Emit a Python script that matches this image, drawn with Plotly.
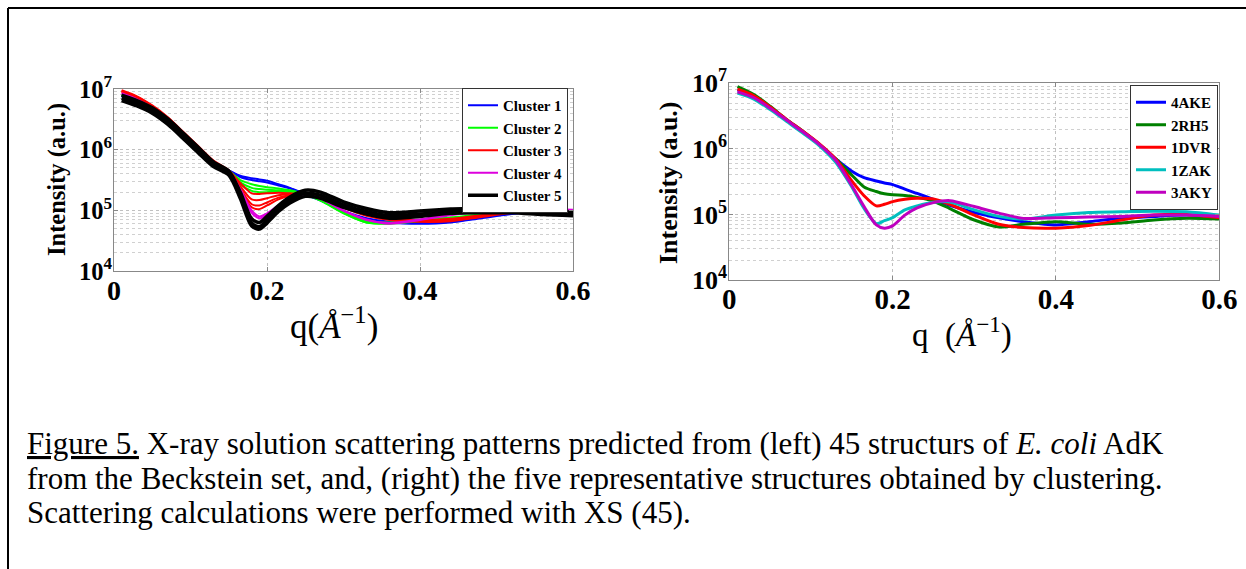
import plotly.graph_objects as go

W, H = 1246, 569

# ---------------- data ----------------
# scattering vector q (1/Angstrom), shared by all curves
q = [0.01, 0.03, 0.05, 0.07, 0.09, 0.11, 0.13, 0.15, 0.165, 0.18, 0.19, 0.20,
     0.215, 0.23, 0.25, 0.27, 0.30, 0.33, 0.36, 0.40, 0.44, 0.48, 0.52, 0.56, 0.60]

# Left panel: log10(Intensity) of structures grouped in clusters
c1_a = [6.88, 6.80, 6.67, 6.49, 6.26, 6.02, 5.79, 5.66, 5.57, 5.53, 5.51, 5.49, 5.43, 5.37, 5.27, 5.17, 4.99, 4.87, 4.81, 4.79, 4.81, 4.88, 4.95, 4.98, 4.96]
c1_b = [6.89, 6.80, 6.67, 6.49, 6.26, 6.02, 5.79, 5.66, 5.55, 5.50, 5.48, 5.46, 5.41, 5.36, 5.26, 5.16, 4.98, 4.86, 4.80, 4.78, 4.80, 4.87, 4.94, 4.97, 4.96]
c2_a = [6.90, 6.81, 6.68, 6.50, 6.27, 6.03, 5.79, 5.65, 5.50, 5.43, 5.40, 5.38, 5.36, 5.33, 5.27, 5.17, 4.96, 4.80, 4.78, 4.82, 4.86, 4.92, 4.96, 4.97, 4.95]
c2_b = [6.90, 6.81, 6.68, 6.50, 6.27, 6.03, 5.79, 5.65, 5.46, 5.37, 5.35, 5.34, 5.33, 5.31, 5.26, 5.16, 4.95, 4.80, 4.79, 4.83, 4.87, 4.92, 4.96, 4.97, 4.95]
c2_c = [6.91, 6.82, 6.69, 6.51, 6.28, 6.04, 5.80, 5.65, 5.43, 5.32, 5.30, 5.30, 5.31, 5.30, 5.26, 5.17, 4.97, 4.82, 4.80, 4.84, 4.88, 4.93, 4.96, 4.97, 4.95]
c3_a = [6.98, 6.88, 6.73, 6.54, 6.30, 6.06, 5.82, 5.66, 5.45, 5.28, 5.27, 5.28, 5.29, 5.28, 5.26, 5.20, 5.05, 4.92, 4.85, 4.82, 4.83, 4.90, 4.97, 4.99, 4.97]
c3_b = [6.97, 6.87, 6.72, 6.53, 6.29, 6.05, 5.81, 5.65, 5.40, 5.18, 5.17, 5.20, 5.25, 5.27, 5.26, 5.20, 5.04, 4.91, 4.84, 4.81, 4.82, 4.89, 4.96, 4.99, 4.97]
c3_c = [6.96, 6.86, 6.71, 6.52, 6.28, 6.04, 5.80, 5.64, 5.36, 5.10, 5.08, 5.13, 5.21, 5.25, 5.26, 5.21, 5.06, 4.93, 4.86, 4.83, 4.84, 4.91, 4.97, 5.00, 4.98]
c3_d = [6.95, 6.85, 6.70, 6.51, 6.27, 6.03, 5.79, 5.64, 5.33, 5.05, 5.02, 5.08, 5.18, 5.24, 5.27, 5.22, 5.07, 4.94, 4.87, 4.84, 4.86, 4.92, 4.98, 5.00, 4.98]
c4_a = [6.93, 6.83, 6.69, 6.50, 6.26, 6.02, 5.78, 5.65, 5.35, 5.00, 4.90, 4.95, 5.08, 5.18, 5.25, 5.20, 5.00, 4.85, 4.78, 4.84, 4.92, 4.98, 5.01, 5.02, 5.01]
c4_b = [6.92, 6.82, 6.68, 6.49, 6.25, 6.01, 5.77, 5.64, 5.33, 4.96, 4.87, 4.93, 5.06, 5.17, 5.24, 5.19, 4.99, 4.84, 4.79, 4.85, 4.93, 4.99, 5.02, 5.02, 5.00]
c5_a = [6.90, 6.81, 6.69, 6.51, 6.28, 6.04, 5.80, 5.65, 5.30, 4.86, 4.80, 4.90, 5.08, 5.22, 5.33, 5.30, 5.14, 5.03, 4.96, 4.99, 5.02, 5.04, 5.03, 5.00, 4.97]
c5_b = [6.85, 6.76, 6.64, 6.46, 6.23, 5.99, 5.76, 5.62, 5.25, 4.79, 4.73, 4.84, 5.03, 5.17, 5.28, 5.25, 5.09, 4.98, 4.91, 4.94, 4.98, 4.99, 4.99, 4.96, 4.94]
c5_c = [6.81, 6.72, 6.60, 6.42, 6.19, 5.95, 5.72, 5.58, 5.20, 4.74, 4.69, 4.79, 4.98, 5.12, 5.23, 5.20, 5.05, 4.94, 4.87, 4.90, 4.95, 4.96, 4.96, 4.93, 4.91]

cluster_names = ["Cluster 1", "Cluster 2", "Cluster 3", "Cluster 4", "Cluster 5"]
cluster_colors = ["#0000ff", "#00ff00", "#ff0000", "#dd00dd", "#000000"]
cluster_curves = [[c1_a, c1_b], [c2_a, c2_b, c2_c], [c3_a, c3_b, c3_c, c3_d],
                  [c4_a, c4_b], [c5_a, c5_b, c5_c]]
cluster_widths = [2, 2, 2, 2, 3.5]

# Right panel: log10(Intensity) of the five representative structures
s_4AKE = [6.90, 6.80, 6.63, 6.44, 6.26, 6.07, 5.85, 5.66, 5.56, 5.51, 5.48, 5.455, 5.385, 5.32, 5.23, 5.14, 5.03, 4.95, 4.89, 4.84, 4.89, 4.94, 4.97, 4.99, 4.97]
s_2RH5 = [6.95, 6.83, 6.65, 6.45, 6.27, 6.07, 5.85, 5.60, 5.42, 5.35, 5.315, 5.30, 5.29, 5.26, 5.20, 5.09, 4.915, 4.81, 4.85, 4.89, 4.85, 4.87, 4.915, 4.94, 4.93]
s_1DVR = [6.91, 6.81, 6.64, 6.45, 6.27, 6.08, 5.85, 5.51, 5.285, 5.13, 5.155, 5.195, 5.23, 5.246, 5.235, 5.155, 4.99, 4.85, 4.80, 4.79, 4.83, 4.915, 4.99, 5.00, 4.95]
s_1ZAK = [6.85, 6.76, 6.60, 6.42, 6.24, 6.05, 5.80, 5.42, 5.09, 4.86, 4.905, 4.95, 5.07, 5.13, 5.185, 5.19, 5.07, 4.97, 4.93, 4.99, 5.03, 5.04, 5.05, 5.04, 4.99]
s_3AKY = [6.87, 6.78, 6.62, 6.44, 6.26, 6.07, 5.83, 5.44, 5.12, 4.84, 4.79, 4.825, 4.99, 5.10, 5.18, 5.21, 5.12, 5.02, 4.94, 4.95, 4.96, 4.97, 4.99, 4.99, 4.97]

struct_names = ["4AKE", "2RH5", "1DVR", "1ZAK", "3AKY"]
struct_colors = ["#0000ff", "#008000", "#ff0000", "#00bfbf", "#bf00bf"]
struct_curves = [s_4AKE, s_2RH5, s_1DVR, s_1ZAK, s_3AKY]

x_ticks = [0, 0.2, 0.4, 0.6]
x_ticktext = ["0", "0.2", "0.4", "0.6"]
y_ticks = [1e4, 1e5, 1e6, 1e7]
y_ticktext = ["10<sup>4</sup>", "10<sup>5</sup>", "10<sup>6</sup>", "10<sup>7</sup>"]
y_minor = [m * 10 ** e for e in (4, 5, 6) for m in range(2, 10)]

caption_lines = [
    "<u>Figure 5.</u> X-ray solution scattering patterns predicted from (left) 45 structurs of <i>E. coli</i> AdK",
    "from the Beckstein set, and, (right) the five representative structures obtained by clustering.",
    "Scattering calculations were performed with XS (45).",
]

# ---------------- figure ----------------
SERIF = "Liberation Serif, Times New Roman, serif"


def fx(px):
    return px / W


def fy(py):
    return 1 - py / H


fig = go.Figure()

for name, color, curves, lw in zip(cluster_names, cluster_colors, cluster_curves, cluster_widths):
    for i, c in enumerate(curves):
        fig.add_trace(go.Scatter(
            x=q, y=[10 ** v for v in c], mode="lines", name=name,
            line=dict(color=color, width=lw, shape="spline", smoothing=0.8),
            legendgroup=name, showlegend=(i == 0), legend="legend",
            xaxis="x", yaxis="y"))

for name, color, c in zip(struct_names, struct_colors, struct_curves):
    fig.add_trace(go.Scatter(
        x=q, y=[10 ** v for v in c], mode="lines", name=name,
        line=dict(color=color, width=3, shape="spline", smoothing=0.8),
        legend="legend2", xaxis="x2", yaxis="y2"))

grid = dict(showgrid=True, gridcolor="#c0c0c0", griddash="dot", gridwidth=1)
common_x = dict(range=[0, 0.6], tickvals=x_ticks, ticktext=x_ticktext,
                showline=True, linecolor="#888888", linewidth=1, mirror="ticks",
                ticks="inside", ticklen=4, tickcolor="#888888", zeroline=False,
                automargin=False, **grid)
common_y = dict(type="log", range=[4, 7], tickvals=y_ticks, ticktext=y_ticktext,
                showline=True, linecolor="#888888", linewidth=1, mirror="ticks",
                ticks="inside", ticklen=4, tickcolor="#888888", zeroline=False,
                automargin=False, ticklabelstandoff=-4,
                minor=dict(tickvals=y_minor, showgrid=True, gridcolor="#d0d0d0",
                           griddash="dot", gridwidth=1, ticks=""),
                **grid)

fig.update_layout(
    width=W, height=H, autosize=False, margin=dict(l=0, r=0, t=0, b=0),
    paper_bgcolor="white", plot_bgcolor="white",
    font=dict(family=SERIF, color="black"),
    xaxis=dict(domain=[fx(114), fx(573)], anchor="y", ticklabelstandoff=-6,
               tickfont=dict(family=SERIF, size=28, weight="bold"), **common_x),
    yaxis=dict(domain=[fy(271), fy(89)], anchor="x",
               tickfont=dict(family=SERIF, size=24.5, weight="bold"), **common_y),
    xaxis2=dict(domain=[fx(729.3), fx(1219.3)], anchor="y2", ticklabelstandoff=-7,
                tickfont=dict(family=SERIF, size=29, weight="bold"), **common_x),
    yaxis2=dict(domain=[fy(280), fy(83.3)], anchor="x2",
                tickfont=dict(family=SERIF, size=26, weight="bold"), **common_y),
    legend=dict(x=fx(568), y=fy(88), xanchor="right", yanchor="top",
                bgcolor="white", bordercolor="#333333", borderwidth=1,
                font=dict(family=SERIF, size=15, weight="bold"),
                itemwidth=30, tracegroupgap=0),
    legend2=dict(x=fx(1218), y=fy(85), xanchor="right", yanchor="top",
                 bgcolor="white", bordercolor="#333333", borderwidth=1,
                 font=dict(family=SERIF, size=15, weight="bold"),
                 itemwidth=30),
)

annotations = [
    dict(text="Intensity (a.u.)", x=fx(57), y=fy(180), textangle=-90,
         font=dict(family=SERIF, size=24.5, weight="bold")),
    dict(text="Intensity (a.u.)", x=fx(668), y=fy(183), textangle=-90,
         font=dict(family=SERIF, size=26, weight="bold")),
    dict(text="q(<i>Å</i><sup>−1</sup>)", x=fx(334), y=fy(323),
         font=dict(family=SERIF, size=35)),
    dict(text="q\u00a0\u00a0(<i>Å</i><sup>−1</sup>)", x=fx(962), y=fy(332),
         font=dict(family=SERIF, size=33)),
]
caption_y = [443.6, 478, 512.4]
for line, yy in zip(caption_lines, caption_y):
    annotations.append(dict(text=line, x=fx(25), y=fy(yy),
                            xanchor="left", align="left",
                            font=dict(family=SERIF, size=31)))
for a in annotations:
    a.setdefault("xref", "paper")
    a.setdefault("yref", "paper")
    a.setdefault("showarrow", False)
    a.setdefault("yanchor", "middle")
    a.setdefault("xanchor", "center")
fig.update_layout(annotations=annotations)

# outer frame (top and left edges of the figure box)
fig.update_layout(shapes=[
    dict(type="line", xref="paper", yref="paper", x0=fx(8), x1=1, y0=fy(8), y1=fy(8),
         line=dict(color="black", width=2)),
    dict(type="line", xref="paper", yref="paper", x0=fx(8), x1=fx(8), y0=fy(8), y1=0,
         line=dict(color="black", width=2)),
])

fig.write_html("out.html", config={"responsive": False, "displayModeBar": False})
